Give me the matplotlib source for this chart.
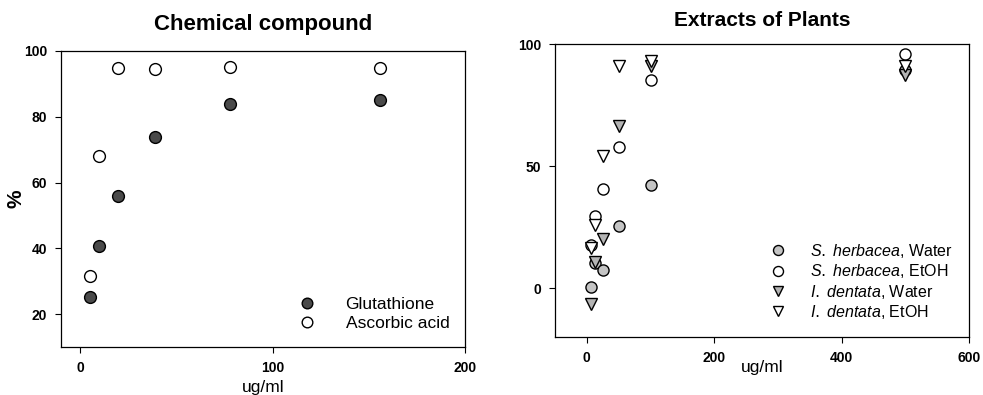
import numpy as np
import matplotlib
matplotlib.use("Agg")
from matplotlib import pyplot as plt

plt.rcParams['font.family'] = ['Liberation Sans', 'DejaVu Sans']
plt.rcParams['mathtext.fontset'] = 'custom'
plt.rcParams['mathtext.it'] = 'Liberation Sans:italic'

# data - left panel
conc_chem = [4.88, 9.77, 19.5, 39, 78, 156]
glutathione = [25.3, 40.6, 55.8, 73.7, 83.8, 85.1]
ascorbic = [31.7, 68.0, 94.9, 94.5, 95.0, 94.9]

# data - right panel
conc_plant = [6.25, 12.5, 25, 50, 100, 500]
sh_water = [0.3, 10.5, 7.5, 25.5, 42.3, 89.5]
sh_etoh = [17.8, 29.6, 40.7, 58.0, 85.4, 96.0]
id_water = [-6.4, 10.8, 20.0, 66.3, 90.8, 87.5]
id_etoh = [16.4, 26.0, 54.2, 90.8, 92.9, 91.0]

fig = plt.figure(figsize=(9.83, 3.95), dpi=100)
ax1 = fig.add_axes([61/983, 1-347/395, 404/983, 296/395])
ax2 = fig.add_axes([555/983, 1-337/395, 414/983, 293/395])

ms = 8.5
ax1.plot(conc_chem, glutathione, 'o', ms=ms, mfc='#4a4a4a', mec='k', mew=1,
         label='Glutathione')
ax1.plot(conc_chem, ascorbic, 'o', ms=ms, mfc='white', mec='k', mew=1,
         label='Ascorbic acid')
ax1.set_xlim(-10, 200)
ax1.set_ylim(10, 100)
ax1.set_xticks([0, 100, 200])
ax1.set_yticks([20, 40, 60, 80, 100])
ax1.set_title('Chemical compound', fontsize=16, fontweight='bold', pad=15)
ax1.set_xlabel('ug/ml', fontsize=12.5)
ax1.xaxis.set_label_coords(0.5, -0.11)
ax1.set_ylabel('%', fontsize=15, fontweight='bold')
ax1.yaxis.set_label_coords(-0.088, 0.5)
ax1.legend(loc='lower right', frameon=False, fontsize=12.5, handletextpad=1.2,
           borderaxespad=0.5, labelspacing=0.25, markerscale=0.9)

ms2 = 8
ax2.plot(conc_plant, sh_water, 'o', ms=ms2, mfc='#c4c4c4', mec='k', mew=1,
         label=r'$\it{S.\ herbacea}$, Water')
ax2.plot(conc_plant, sh_etoh, 'o', ms=ms2, mfc='white', mec='k', mew=1,
         label=r'$\it{S.\ herbacea}$, EtOH')
ax2.plot(conc_plant, id_water, 'v', ms=ms2, mfc='#b4b4b4', mec='k', mew=1,
         label=r'$\it{I.\ dentata}$, Water')
ax2.plot(conc_plant, id_etoh, 'v', ms=ms2, mfc='white', mec='k', mew=1,
         label=r'$\it{I.\ dentata}$, EtOH')
ax2.set_xlim(-50, 600)
ax2.set_ylim(-20, 100)
ax2.set_xticks([0, 200, 400, 600])
ax2.set_yticks([0, 50, 100])
ax2.set_title('Extracts of Plants', fontsize=15, fontweight='bold', pad=13)
ax2.set_xlabel('ug/ml', fontsize=12.5)
ax2.xaxis.set_label_coords(0.5, -0.08)
ax2.legend(loc='lower right', frameon=False, fontsize=11.5, handletextpad=1.0,
           borderaxespad=0.6, labelspacing=0.15, markerscale=0.9)

for ax in (ax1, ax2):
    ax.tick_params(direction='out', length=4, width=0.8, labelsize=10, pad=6)
    for lbl in ax.get_xticklabels() + ax.get_yticklabels():
        lbl.set_fontweight('bold')
    for s in ax.spines.values():
        s.set_linewidth(0.9)

fig.savefig('out.png', dpi=100)
